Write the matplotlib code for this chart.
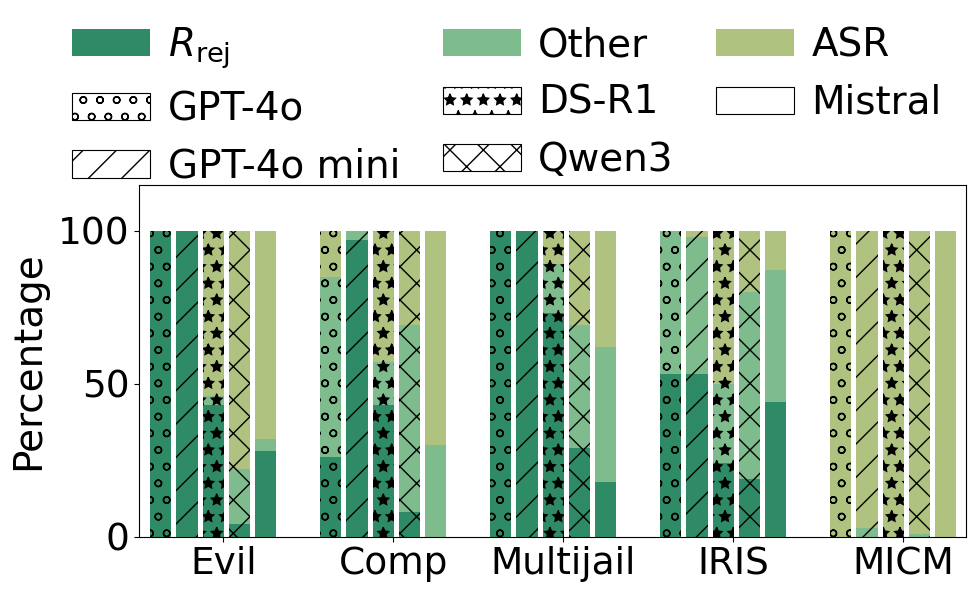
import numpy as np
import matplotlib.pyplot as plt
from matplotlib.patches import Patch

datasets = ['Evil', 'Comp', 'Multijail', 'IRIS', 'MICM']
models = ['GPT-4o', 'GPT-4o mini', 'DS-R1', 'Qwen3', 'Mistral']
hatches = ['o', '/', '*', 'x', '']

# rows = datasets, columns = models (GPT-4o, GPT-4o mini, DS-R1, Qwen3, Mistral)
r_rej = np.array([
    [100, 100, 43, 4, 28],
    [26, 97, 43, 8, 0],
    [100, 100, 73, 29, 18],
    [53, 53, 24, 19, 44],
    [0, 0, 0, 0, 0],
])
other = np.array([
    [0, 0, 3, 18, 4],
    [59, 3, 14, 61, 30],
    [0, 0, 16, 40, 44],
    [47, 45, 26, 61, 43],
    [0, 3, 0, 1, 0],
])
asr = np.array([
    [0, 0, 54, 78, 68],
    [15, 0, 43, 31, 70],
    [0, 0, 11, 31, 38],
    [0, 2, 50, 20, 13],
    [100, 97, 100, 99, 100],
])

c_rej = '#2e8b66'
c_other = '#7fbc8d'
c_asr = '#b0c27f'

plt.rcParams['font.size'] = 27
plt.rcParams['hatch.linewidth'] = 1.0

fig = plt.figure(figsize=(9.77, 5.95), dpi=100)
ax = fig.add_axes([0.1426, 0.098, 0.8458, 0.5916])

x = np.arange(len(datasets))
step = 0.1545
width = 0.124
for j, m in enumerate(models):
    pos = x - 0.368 + j * step
    kw = dict(width=width, hatch=hatches[j], edgecolor='black', linewidth=0)
    ax.bar(pos, r_rej[:, j], color=c_rej, **kw)
    ax.bar(pos, other[:, j], bottom=r_rej[:, j], color=c_other, **kw)
    ax.bar(pos, asr[:, j], bottom=r_rej[:, j] + other[:, j], color=c_asr, **kw)

ax.set_xticks(x)
ax.set_xticklabels(datasets)
ax.set_yticks([0, 50, 100])
ax.set_ylim(0, 115)
ax.set_xlim(-0.494, 4.367)
ax.set_ylabel('Percentage', fontsize=28, labelpad=8)

handles = [
    Patch(facecolor=c_rej, label=r'$R_{\mathrm{rej}}$'),
    Patch(facecolor='white', edgecolor='black', hatch='o', linewidth=0.8, label='GPT-4o'),
    Patch(facecolor='white', edgecolor='black', hatch='/', linewidth=0.8, label='GPT-4o mini'),
    Patch(facecolor=c_other, label='Other'),
    Patch(facecolor='white', edgecolor='black', hatch='*', linewidth=0.8, label='DS-R1'),
    Patch(facecolor='white', edgecolor='black', hatch='x', linewidth=0.8, label='Qwen3'),
    Patch(facecolor=c_asr, label='ASR'),
    Patch(facecolor='white', edgecolor='black', linewidth=0.8, label='Mistral'),
]
fig.legend(handles=handles, loc='upper left', bbox_to_anchor=(0.074, 0.958),
           ncol=3, frameon=False, borderpad=0, borderaxespad=0, fontsize=28,
           handletextpad=0.45, columnspacing=1.1)

fig.savefig('out.png', dpi=100)
